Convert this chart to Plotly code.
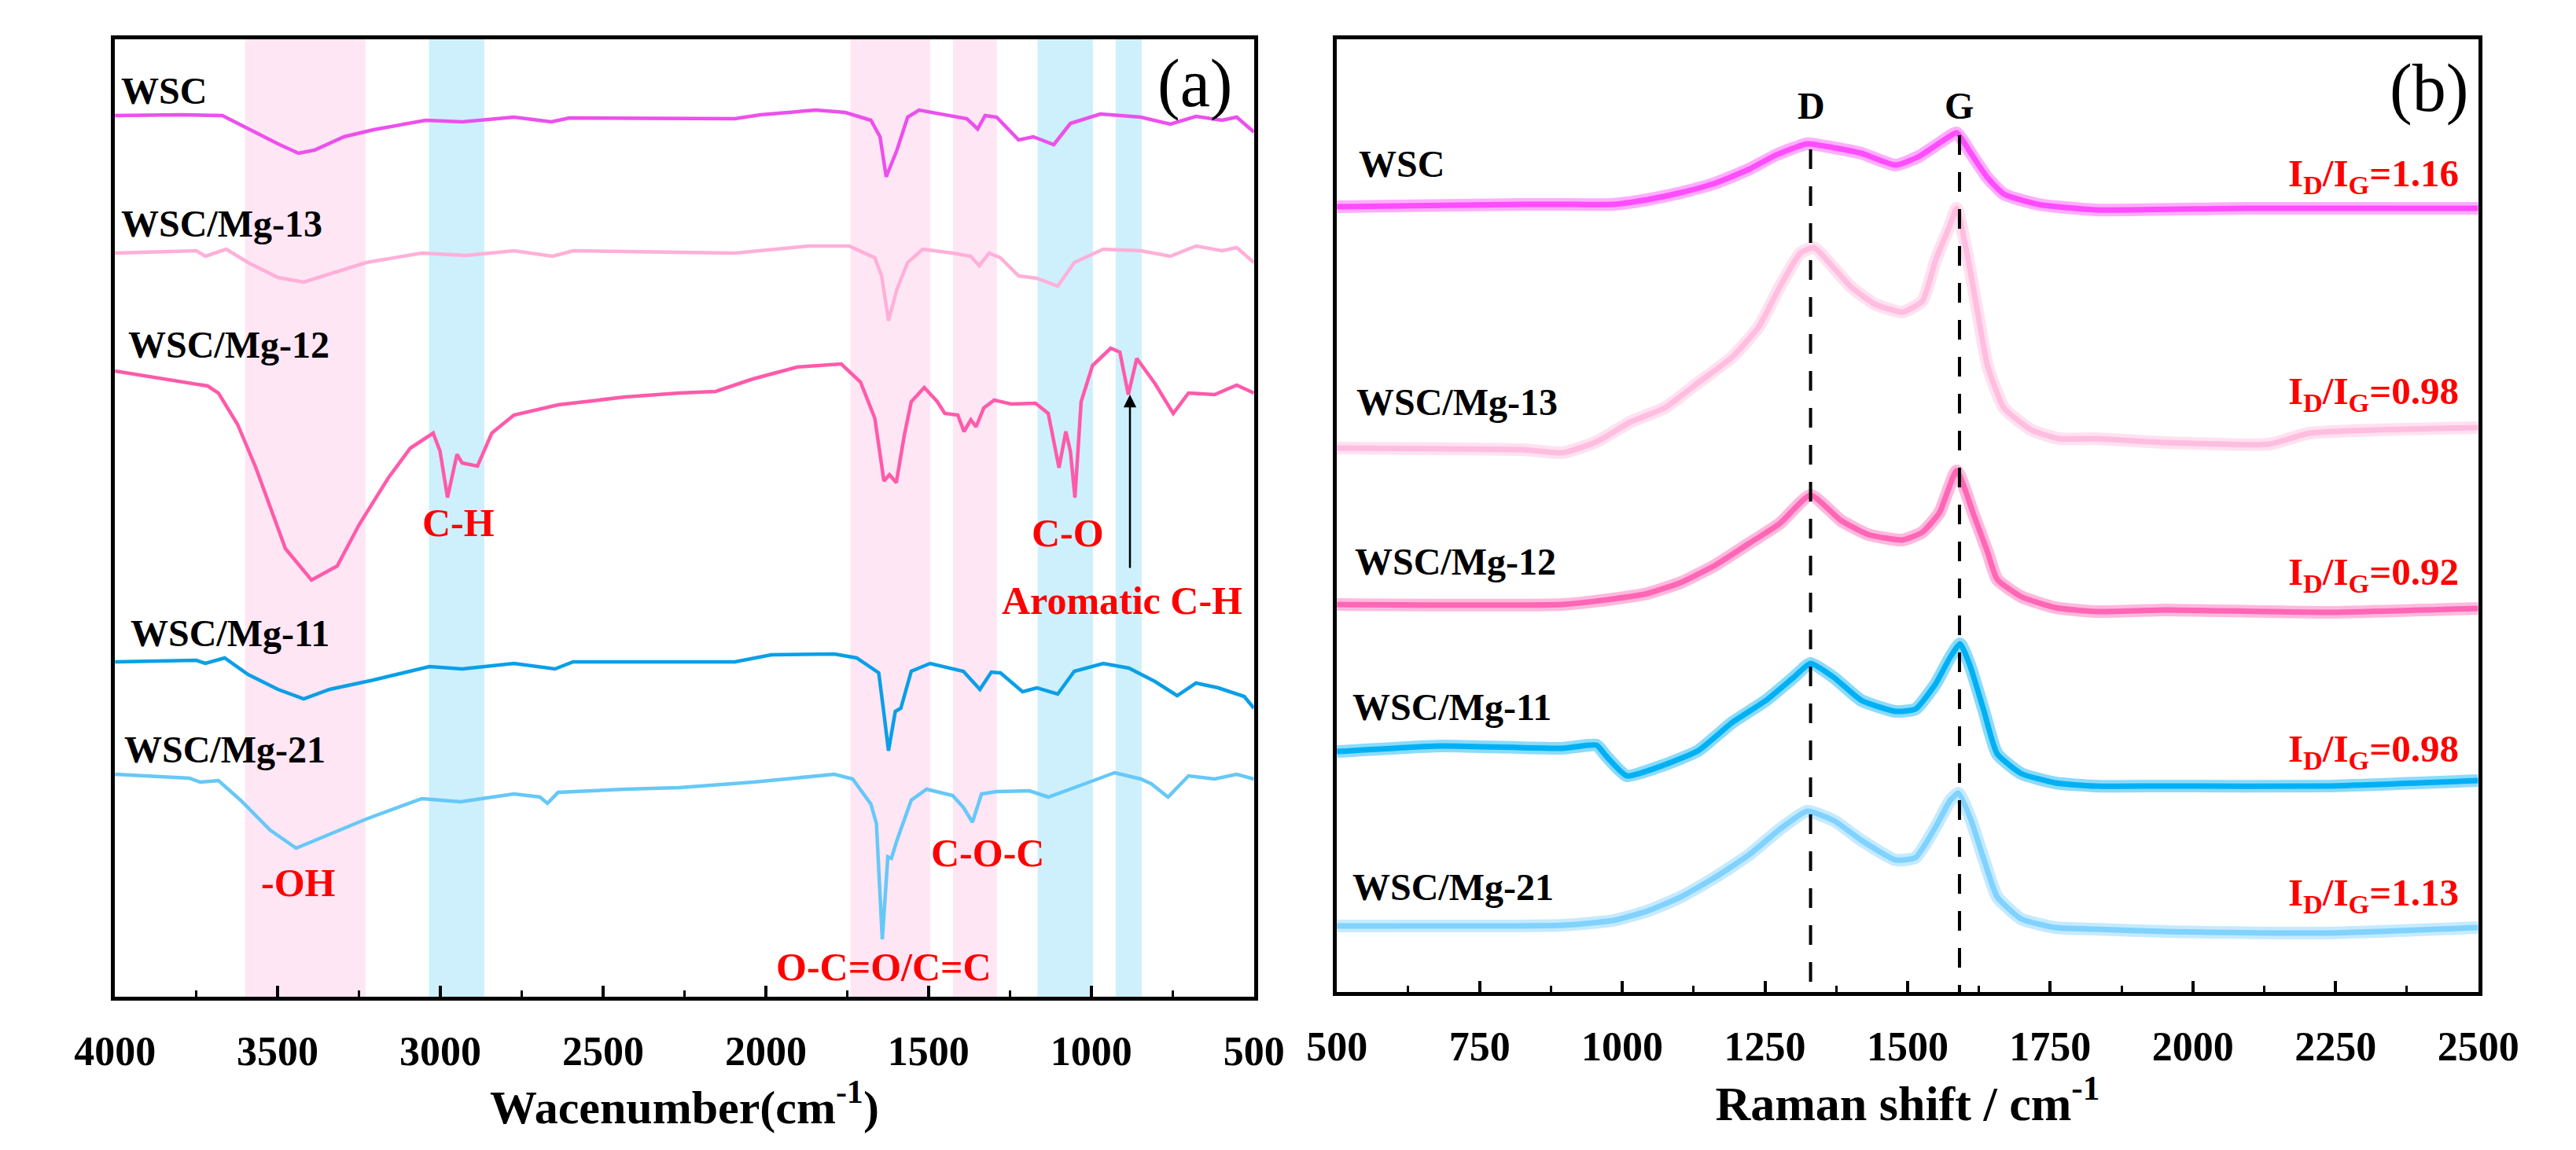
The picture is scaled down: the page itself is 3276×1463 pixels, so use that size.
import plotly.graph_objects as go

# ---- FTIR (a) : wavenumber / transmittance (a.u., stacked) ----
ftir_names = ['WSC', 'WSC/Mg-13', 'WSC/Mg-12', 'WSC/Mg-11', 'WSC/Mg-21']

ftir_x_wsc = [4000, 3794, 3670, 3591, 3499, 3436, 3387, 3296, 3205, 3045, 2933, 2774, 2659, 2603, 2266, 2095, 2016,
              1847, 1756, 1677, 1649, 1630, 1597, 1564, 1529, 1450, 1382, 1349, 1326, 1291, 1223, 1178, 1115, 1064,
              972, 848, 757, 678, 598, 553, 500]
ftir_y_wsc = [1121, 1122, 1121, 1104, 1085, 1073, 1077, 1094, 1103, 1115, 1113, 1119, 1113, 1118, 1117, 1117, 1122,
              1128, 1125, 1115, 1094, 1043, 1077, 1119, 1128, 1122, 1117, 1104, 1121, 1119, 1090, 1094, 1084, 1111,
              1123, 1119, 1110, 1120, 1115, 1119, 1100]

ftir_x_13 = [4000, 3750, 3722, 3658, 3591, 3499, 3420, 3340, 3228, 3057, 2921, 2774, 2655, 2592, 2266, 2095, 1869,
             1744, 1665, 1644, 1623, 1597, 1564, 1518, 1426, 1370, 1344, 1314, 1279, 1223, 1167, 1103, 1052, 963,
             848, 757, 678, 598, 553, 500]
ftir_y_13 = [946, 949, 942, 951, 934, 915, 909, 919, 934, 946, 943, 949, 942, 949, 947, 946, 955,
             955, 940, 917, 860, 900, 934, 951, 946, 942, 930, 946, 940, 917, 914, 904, 934, 951,
             949, 942, 955, 949, 953, 934]

ftir_x_12 = [4000, 3850, 3715, 3682, 3623, 3567, 3511, 3476, 3396, 3317, 3249, 3160, 3092, 3022, 3001, 2978, 2949,
             2933, 2886, 2842, 2774, 2638, 2432, 2266, 2154, 2039, 1904, 1768, 1709, 1665, 1637, 1620, 1599, 1574,
             1553, 1513, 1473, 1450, 1410, 1391, 1370, 1354, 1330, 1298, 1246, 1171, 1132, 1099, 1078, 1064, 1050,
             1031, 996, 940, 912, 886, 860, 804, 748, 701, 621, 553, 500]
ftir_y_12 = [796, 786, 777, 768, 728, 673, 610, 570, 530, 548, 601, 660, 698, 717, 694, 635, 690,
             679, 675, 717, 740, 753, 763, 768, 770, 786, 801, 805, 782, 736, 656, 664, 654, 715,
             757, 775, 757, 742, 740, 719, 734, 725, 749, 759, 754, 755, 742, 673, 719, 694, 635,
             757, 803, 825, 820, 766, 812, 780, 742, 768, 766, 778, 768]

ftir_x_11 = [4000, 3750, 3722, 3663, 3591, 3499, 3420, 3340, 3205, 3034, 2933, 2774, 2648, 2592, 2266, 2095, 1983,
             1789, 1721, 1653, 1639, 1623, 1602, 1585, 1553, 1495, 1393, 1342, 1307, 1279, 1211, 1167, 1103, 1052,
             963, 884, 804, 736, 678, 610, 530, 500]
ftir_y_11 = [426, 428, 424, 431, 410, 391, 379, 391, 403, 420, 417, 424, 417, 426, 426, 426, 435,
             436, 431, 412, 367, 313, 363, 367, 414, 424, 414, 391, 413, 412, 388, 393, 385, 414,
             424, 418, 401, 383, 399, 393, 382, 367]

ftir_x_21 = [4000, 3771, 3738, 3682, 3614, 3523, 3443, 3364, 3228, 3057, 2938, 2774, 2694, 2671, 2638, 2432, 2266,
             2039, 1789, 1733, 1677, 1660, 1642, 1625, 1614, 1597, 1553, 1506, 1426, 1393, 1365, 1337, 1291, 1190,
             1132, 1019, 928, 848, 816, 764, 701, 621, 553, 500]
ftir_y_21 = [283, 278, 273, 275, 250, 212, 189, 203, 226, 252, 248, 258, 254, 246, 260, 264, 266,
             273, 283, 277, 245, 220, 73, 178, 176, 199, 250, 264, 256, 241, 222, 258, 261, 262,
             254, 271, 285, 277, 271, 254, 281, 277, 283, 277]

# highlighted absorption regions (cm-1)
pink_bands = [(3600, 3230), (1740, 1495), (1425, 1290)]
blue_bands = [(3035, 2865), (1165, 995), (925, 845)]

# ---- Raman (b) : Raman shift / intensity (a.u., stacked) ----
raman_x_wsc = [500, 824, 895, 984, 1044, 1103, 1163, 1223, 1270, 1324, 1371, 1419, 1479, 1520, 1562, 1586, 1610,
               1640, 1669, 1729, 1829, 2092, 2500]
raman_y_wsc = [999, 1002, 1002, 1002, 1008, 1017, 1029, 1047, 1065, 1079, 1074, 1067, 1052, 1063, 1083, 1093, 1068,
               1036, 1015, 1002, 995, 997, 997]

raman_x_13 = [500, 824, 895, 955, 1014, 1074, 1133, 1193, 1240, 1276, 1312, 1336, 1366, 1401, 1443, 1491, 1526,
              1550, 1574, 1586, 1604, 1622, 1640, 1669, 1717, 1765, 1829, 1952, 2134, 2205, 2500]
raman_y_13 = [692, 690, 686, 700, 725, 743, 775, 808, 847, 897, 940, 947, 925, 897, 875, 865, 879,
              933, 975, 997, 940, 868, 797, 743, 715, 704, 704, 699, 697, 711, 718]

raman_x_12 = [500, 895, 984, 1044, 1103, 1163, 1223, 1276, 1330, 1383, 1431, 1491, 1526, 1556, 1586, 1616, 1640,
              1657, 1699, 1759, 1829, 1952, 2233, 2500]
raman_y_12 = [493, 493, 500, 507, 521, 543, 571, 596, 632, 600, 582, 575, 585, 610, 663, 607, 560,
              525, 503, 489, 484, 486, 483, 488]

raman_x_11 = [500, 683, 895, 955, 972, 1008, 1074, 1133, 1193, 1252, 1300, 1330, 1371, 1419, 1479, 1514, 1550,
              1574, 1592, 1610, 1634, 1657, 1699, 1759, 1829, 1952, 2233, 2500]
raman_y_11 = [306, 313, 310, 314, 300, 275, 289, 307, 343, 371, 400, 418, 400, 371, 357, 360, 393,
              425, 443, 414, 357, 303, 278, 266, 262, 262, 262, 269]

raman_x_21 = [500, 895, 984, 1044, 1103, 1163, 1223, 1276, 1324, 1371, 1419, 1479, 1514, 1550, 1574, 1589, 1610,
              1634, 1657, 1699, 1759, 1829, 1952, 2233, 2500]
raman_y_21 = [84, 85, 91, 103, 121, 146, 175, 207, 230, 218, 193, 168, 171, 211, 243, 253, 221,
              168, 121, 93, 82, 80, 77, 75, 82]

id_ig = ['1.16', '0.98', '0.92', '0.98', '1.13']
d_band = 1330
g_band = 1591

ftir_colors = ['#EC50EC', '#FFB0D8', '#FF5AAA', '#0A9FE6', '#66C8F8']
raman_colors = ['#FF4CFF', '#FFBDE0', '#FF66B5', '#00B0F5', '#80D2FF']

ftir_x = [ftir_x_wsc, ftir_x_13, ftir_x_12, ftir_x_11, ftir_x_21]
ftir_y = [ftir_y_wsc, ftir_y_13, ftir_y_12, ftir_y_11, ftir_y_21]
raman_x = [raman_x_wsc, raman_x_13, raman_x_12, raman_x_11, raman_x_21]
raman_y = [raman_y_wsc, raman_y_13, raman_y_12, raman_y_11, raman_y_21]

FONT = 'Liberation Serif'

fig = go.Figure()

for i in range(len(ftir_names)):
    fig.add_trace(go.Scatter(x=ftir_x[i], y=ftir_y[i], mode='lines', name=ftir_names[i],
                             line=dict(color=ftir_colors[i], width=4.5), xaxis='x', yaxis='y'))

for i in range(len(ftir_names)):
    # wide faint band + core line to look like the noisy raw spectrum
    fig.add_trace(go.Scatter(x=raman_x[i], y=raman_y[i], mode='lines', name=ftir_names[i],
                             line=dict(color=raman_colors[i], width=16, shape='spline', smoothing=0.5),
                             opacity=0.45, xaxis='x2', yaxis='y2'))
    fig.add_trace(go.Scatter(x=raman_x[i], y=raman_y[i], mode='lines', name=ftir_names[i],
                             line=dict(color=raman_colors[i], width=7, shape='spline', smoothing=0.5),
                             xaxis='x2', yaxis='y2'))

# D and G dashed guide lines
fig.add_trace(go.Scatter(x=[d_band, d_band], y=[1072, 0], mode='lines',
                         line=dict(color='black', width=4, dash='25px,22px'), xaxis='x2', yaxis='y2'))
fig.add_trace(go.Scatter(x=[g_band, g_band], y=[1090, 0], mode='lines',
                         line=dict(color='black', width=4, dash='25px,22px'), xaxis='x2', yaxis='y2'))

shapes = []
for b in pink_bands:
    shapes.append(dict(type='rect', xref='x', yref='y domain', x0=b[0], x1=b[1], y0=0, y1=1,
                       fillcolor='#FFE6F4', line=dict(width=0), layer='below'))
for b in blue_bands:
    shapes.append(dict(type='rect', xref='x', yref='y domain', x0=b[0], x1=b[1], y0=0, y1=1,
                       fillcolor='#CDF0FC', line=dict(width=0), layer='below'))

annotations = []

# sample labels, panel a
label_a = [(3986, 1153), (3986, 984), (3965, 830), (3958, 463), (3977, 315)]
for i in range(len(ftir_names)):
    annotations.append(dict(x=label_a[i][0], y=label_a[i][1], xref='x', yref='y', text='<b>' + ftir_names[i] + '</b>',
                            showarrow=False, xanchor='left', yanchor='middle',
                            font=dict(family=FONT, size=48, color='black')))

# group labels, panel a
groups = [('C-H', 2945, 603), ('C-O', 1073, 590), ('Aromatic C-H', 905, 504), ('-OH', 3436, 145),
          ('C-O-C', 1319, 183), ('O-C=O/C=C', 1637, 38)]
for g in groups:
    annotations.append(dict(x=g[1], y=g[2], xref='x', yref='y', text='<b>' + g[0] + '</b>', showarrow=False,
                            font=dict(family=FONT, size=50, color='#FF0000')))

annotations.append(dict(x=682, y=1162, xref='x', yref='y', text='(a)', showarrow=False,
                        font=dict(family=FONT, size=86, color='black')))
annotations.append(dict(x=881, y=766, ax=881, ay=544, xref='x', yref='y', axref='x', ayref='y', text='',
                        showarrow=True, arrowhead=2, arrowsize=1.3, arrowwidth=2.5, arrowcolor='black'))

# sample labels and ratios, panel b
label_b = [(535, 1054), (531, 751), (528, 548), (525, 363), (525, 134)]
ratio_b = [1039, 762, 532, 307, 124]
for i in range(len(ftir_names)):
    annotations.append(dict(x=label_b[i][0], y=label_b[i][1], xref='x2', yref='y2', text='<b>' + ftir_names[i] + '</b>',
                            showarrow=False, xanchor='left', yanchor='middle',
                            font=dict(family=FONT, size=48, color='black')))
    annotations.append(dict(x=2469, y=ratio_b[i], xref='x2', yref='y2',
                            text='<b>I<sub>D</sub>/I<sub>G</sub>=' + id_ig[i] + '</b>',
                            showarrow=False, xanchor='right', yanchor='middle',
                            font=dict(family=FONT, size=49, color='#FF0000')))

annotations.append(dict(x=1331, y=1128, xref='x2', yref='y2', text='<b>D</b>', showarrow=False,
                        font=dict(family=FONT, size=48, color='black')))
annotations.append(dict(x=1590, y=1128, xref='x2', yref='y2', text='<b>G</b>', showarrow=False,
                        font=dict(family=FONT, size=48, color='black')))
annotations.append(dict(x=2413, y=1150, xref='x2', yref='y2', text='(b)', showarrow=False,
                        font=dict(family=FONT, size=86, color='black')))

W, H = 3276, 1463
tickfont = dict(family=FONT, size=52, color='black', weight='bold')

fig.update_layout(
    width=W, height=H,
    margin=dict(l=0, r=0, t=0, b=0),
    paper_bgcolor='white', plot_bgcolor='white',
    showlegend=False,
    shapes=shapes,
    annotations=annotations,
    xaxis=dict(domain=[89 / W, 1585 / W], range=[4000, 500], anchor='y',
               tickvals=[4000, 3500, 3000, 2500, 2000, 1500, 1000, 500],
               ticks='inside', ticklen=14, tickwidth=4, tickcolor='black',
               minor=dict(ticks='inside', ticklen=8, tickwidth=3, tickcolor='black', dtick=250, tick0=500),
               showline=True, linewidth=5, linecolor='black', mirror=True,
               showgrid=False, zeroline=False, tickfont=tickfont, ticklabelstandoff=20,
               title=dict(text='<b>Wacenumber(cm<sup>-1</sup>)</b>',
                          font=dict(family=FONT, size=60, color='black'), standoff=16)),
    yaxis=dict(domain=[1 - 1260 / H, 1 - 42 / H], range=[0, 1218], anchor='x',
               showticklabels=False, ticks='', showline=True, linewidth=5, linecolor='black',
               mirror=True, showgrid=False, zeroline=False),
    xaxis2=dict(domain=[1694 / W, 3193 / W], range=[500, 2500], anchor='y2',
                tickvals=[500, 750, 1000, 1250, 1500, 1750, 2000, 2250, 2500],
                ticks='inside', ticklen=14, tickwidth=4, tickcolor='black',
                minor=dict(ticks='inside', ticklen=8, tickwidth=3, tickcolor='black', dtick=125, tick0=500),
                showline=True, linewidth=5, linecolor='black', mirror=True,
                showgrid=False, zeroline=False, tickfont=tickfont, ticklabelstandoff=20,
                title=dict(text='<b>Raman shift / cm<sup>-1</sup></b>',
                           font=dict(family=FONT, size=62, color='black'), standoff=14)),
    yaxis2=dict(domain=[1 - 1254 / H, 1 - 42 / H], range=[0, 1212], anchor='x2',
                showticklabels=False, ticks='', showline=True, linewidth=5, linecolor='black',
                mirror=True, showgrid=False, zeroline=False),
)

fig.write_html('out.html')
